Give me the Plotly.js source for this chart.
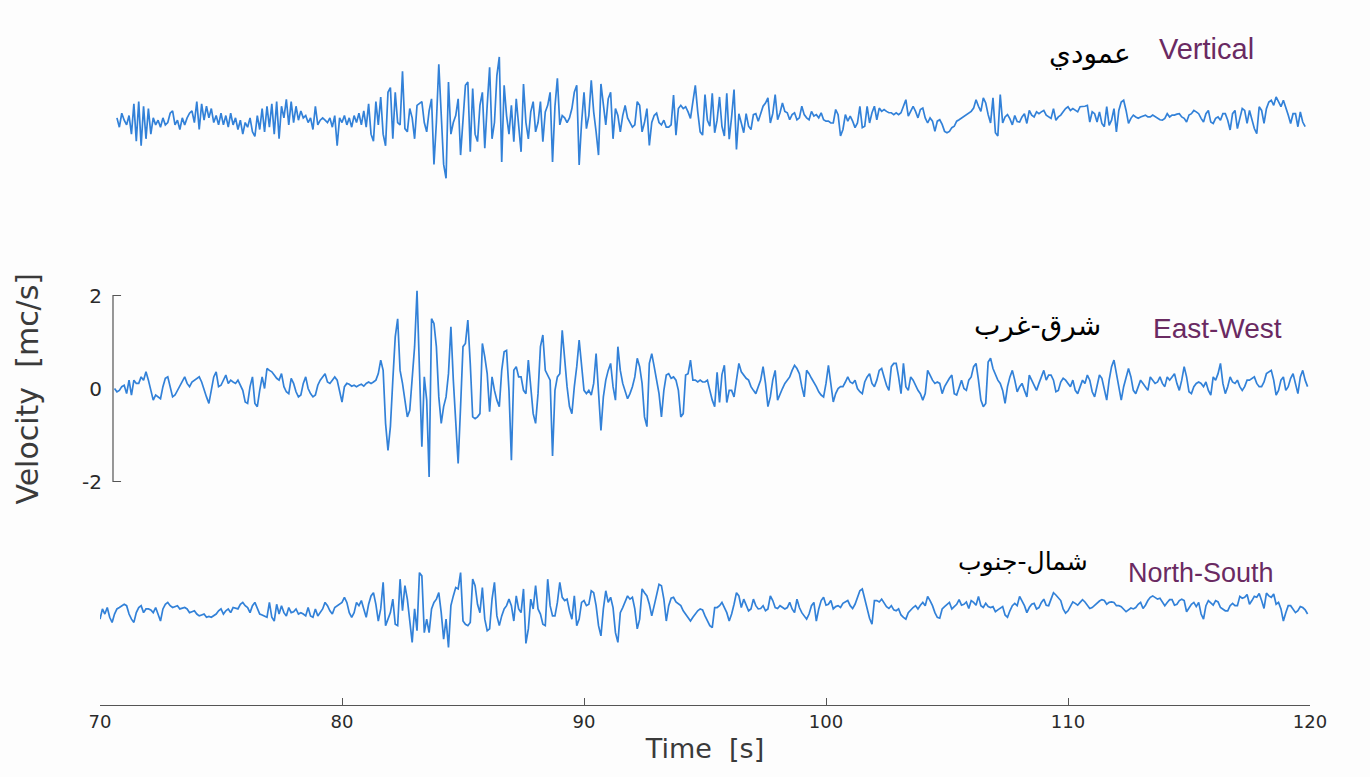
<!DOCTYPE html>
<html>
<head>
<meta charset="utf-8">
<script src="https://cdn.plot.ly/plotly-3.0.1.min.js"></script>
<style>html,body{margin:0;padding:0;background:#fdfdfd;}#chart{width:1370px;height:777px;}</style>
</head>
<body>
<div id="chart"></div>
<script>
// ---------------- DATA (velocity, mc/s; sampled every 0.1 s from t = 70 s) ----------------
const startTime = 70;
const sampleStep = 0.1;
const timeTicks = [70, 80, 90, 100, 110, 120];
const velocityTicks = [-2, 0, 2];
const componentNames = ["Vertical", "East-West", "North-South"];
const componentNamesAr = ["عمودي", "شرق-غرب", "شمال-جنوب"];
const xTitle = "Time  [s]";
const yTitle = "Velocity  [mc/s]";

const vertical = [
  null,null,null,null,null,null,null,0.05,-0.15,0.15,
  0.0,-0.1,0.1,-0.3,0.35,-0.45,0.4,-0.55,0.3,-0.4,
  0.25,-0.3,0.05,-0.1,0.0,-0.15,0.05,-0.1,-0.05,0.15,
  0.2,-0.1,0.0,-0.2,0.05,-0.1,0.05,0.15,0.2,-0.05,
  0.4,-0.2,0.35,0.0,0.3,0.05,0.25,-0.05,0.1,-0.1,
  0.15,-0.1,0.1,-0.15,0.15,-0.1,0.05,-0.2,0.0,-0.3,
  -0.05,-0.15,0.05,-0.25,-0.35,0.1,-0.2,0.25,-0.25,0.3,
  -0.15,0.35,-0.3,0.4,-0.4,0.3,0.05,0.45,-0.1,0.4,
  -0.05,0.3,0.0,0.2,0.05,0.1,-0.05,0.05,-0.2,0.3,
  -0.1,0.0,0.05,0.0,-0.05,0.05,-0.15,0.1,-0.55,0.05,
  -0.05,0.1,-0.1,0.05,-0.15,0.1,-0.05,0.15,-0.1,0.2,
  -0.15,0.35,-0.3,-0.45,0.4,-0.1,0.5,-0.3,-0.55,0.6,
  0.7,-0.4,0.6,-0.05,-0.1,1.05,-0.18,-0.25,0.25,0.05,
  -0.4,0.32,0.36,0.4,-0.05,-0.25,0.2,0.46,-0.95,-0.05,
  1.2,0.18,-0.95,-1.25,0.82,-0.3,-0.05,0.1,0.46,-0.75,
  -0.05,0.75,0.82,-0.68,0.68,-0.3,-0.46,0.32,0.6,-0.6,
  0.32,1.14,-0.4,-0.05,0.96,1.36,-0.9,0.75,0.1,-0.3,
  0.32,-0.46,0.46,-0.05,-0.68,0.78,-0.05,-0.4,0.18,0.4,
  -0.25,-0.05,0.4,-0.46,0.18,0.32,0.6,-0.9,0.3,0.9,
  -0.1,0.1,0.05,-0.05,0.05,0.25,0.6,0.75,-0.96,-0.05,
  0.6,-0.18,0.1,0.86,0.18,-0.25,-0.75,0.78,0.32,-0.1,
  0.46,0.6,-0.4,0.25,0.1,-0.25,0.1,0.32,0.05,-0.05,
  -0.15,-0.1,0.4,0.32,-0.25,-0.05,0.25,-0.54,-0.05,0.1,
  0.15,-0.05,-0.1,0.0,-0.15,-0.15,-0.1,0.54,-0.32,0.25,
  0.32,0.25,0.29,0.18,0.04,0.4,0.75,0.18,-0.25,-0.32,
  0.55,0.0,-0.13,0.58,-0.27,0.0,0.5,-0.13,-0.34,0.58,
  -0.41,0.07,0.66,-0.63,0.14,-0.06,-0.27,0.14,-0.13,-0.2,
  0.12,0.14,-0.02,0.14,0.3,0.37,0.48,-0.06,0.14,0.55,
  0.01,0.16,0.37,0.19,0.16,0.01,0.12,0.16,0.01,0.05,
  0.3,0.12,0.05,0.01,0.19,0.09,0.12,0.05,0.16,0.01,
  -0.02,-0.02,-0.06,-0.06,0.23,0.12,-0.34,-0.2,0.12,-0.02,
  0.09,-0.02,-0.16,-0.06,0.3,-0.16,-0.13,0.3,-0.06,0.16,
  0.3,0.01,0.26,0.19,0.23,0.19,0.16,0.16,0.12,0.16,
  0.12,0.16,0.3,0.44,0.09,0.19,0.3,0.19,0.05,0.23,
  0.26,0.05,-0.06,0.05,-0.02,-0.24,-0.02,0.01,-0.09,-0.24,
  -0.27,-0.24,-0.16,-0.13,-0.02,0.01,0.05,0.09,0.12,0.16,
  0.19,0.26,0.44,0.3,0.19,0.48,0.37,0.12,-0.06,0.48,
  -0.27,-0.34,0.55,-0.06,0.07,0.12,0.03,-0.1,0.1,-0.03,
  -0.04,0.07,0.14,-0.07,0.21,0.11,0.07,0.18,0.14,0.18,
  0.21,0.11,0.07,0.04,0.25,0.0,0.07,0.11,0.18,0.25,
  0.29,0.21,0.25,0.21,0.18,0.29,0.29,0.3,0.32,-0.04,
  0.18,0.14,-0.04,0.18,-0.07,-0.14,0.29,-0.11,0.0,0.25,
  -0.25,0.21,0.39,0.43,0.21,-0.07,0.04,0.11,0.07,0.04,
  0.07,0.09,0.11,0.07,0.07,0.11,0.07,0.04,0.01,0.0,
  0.04,0.14,0.07,0.11,0.11,0.13,0.14,0.07,0.04,-0.04,
  0.11,0.14,0.21,0.18,0.14,0.04,-0.04,0.14,0.21,-0.04,
  -0.07,0.04,0.07,0.0,0.14,0.14,0.0,-0.21,0.14,0.21,
  -0.18,0.04,0.25,0.21,-0.07,0.21,0.04,-0.18,-0.29,0.29,
  0.21,-0.07,0.25,0.39,0.43,0.32,0.5,0.39,0.29,0.43,
  0.29,0.11,-0.07,0.14,0.14,-0.14,0.18,-0.04,-0.14,null
];

const eastWest = [
  null,null,null,null,null,null,0.0,-0.07,-0.04,0.04,
  0.07,-0.11,0.18,-0.14,0.18,0.11,0.11,0.25,0.18,0.36,
  0.18,-0.07,-0.25,-0.14,-0.18,-0.22,0.04,0.22,0.25,0.04,
  -0.18,-0.14,-0.04,0.07,0.18,0.25,0.11,0.04,0.14,0.18,
  0.22,0.25,0.14,-0.04,-0.18,-0.32,0.0,0.25,0.36,0.04,
  0.07,0.18,0.29,0.11,0.18,0.14,0.11,0.18,0.07,-0.04,
  -0.29,-0.32,0.04,0.25,-0.32,-0.39,-0.04,0.25,0.0,0.43,
  0.39,0.36,0.29,0.22,0.18,0.32,0.04,-0.07,-0.11,0.22,
  0.11,-0.07,-0.18,-0.14,0.11,0.25,0.0,-0.11,-0.18,-0.14,
  0.07,0.18,0.25,0.32,0.14,0.11,0.18,0.25,0.18,-0.04,
  -0.29,0.04,0.11,0.09,0.05,0.07,0.04,0.07,0.09,0.05,
  0.11,0.14,0.11,0.14,0.18,0.32,0.61,0.39,-0.75,-1.33,
  -0.82,0.18,1.11,1.5,0.39,0.11,-0.25,-0.61,-0.47,0.18,
  0.9,2.1,0.54,-1.25,0.25,-0.25,-1.9,1.5,1.4,0.9,
  -0.18,-0.75,-0.39,-0.18,0.32,1.33,0.18,-0.61,-1.61,-0.39,
  0.9,0.97,1.47,0.54,-0.61,-0.65,-0.61,-0.54,0.97,0.68,
  0.32,-0.5,0.25,-0.04,-0.25,-0.39,0.39,0.79,0.82,-0.04,
  -1.54,0.39,0.47,0.25,0.25,-0.04,-0.11,0.61,0.04,-0.54,
  -0.75,-0.11,0.9,1.15,0.39,0.29,0.18,-1.45,-0.04,0.25,
  0.32,1.25,0.54,0.04,-0.39,-0.54,0.04,0.47,1.04,0.54,
  -0.04,-0.11,-0.04,-0.14,0.11,0.75,-0.04,-0.9,-0.18,0.18,
  0.39,0.54,0.04,-0.25,0.9,0.39,0.11,-0.04,-0.22,-0.11,
  0.04,0.25,0.65,0.47,0.11,-0.61,-0.82,0.54,0.75,0.47,
  0.18,-0.11,-0.61,-0.04,0.29,0.32,0.22,0.25,0.18,-0.04,
  -0.61,-0.54,0.29,0.32,0.61,0.18,0.18,0.14,0.18,0.14,
  0.14,0.18,-0.04,-0.25,-0.39,0.35,-0.3,0.3,0.5,-0.3,
  -0.04,-0.04,-0.18,0.18,0.54,0.36,0.29,0.22,0.18,0.04,
  -0.04,-0.11,0.04,0.18,0.47,0.11,-0.39,-0.18,0.18,0.39,
  -0.25,-0.11,0.0,0.11,0.18,0.25,0.39,0.5,0.43,0.32,
  0.04,-0.18,0.39,0.32,0.22,0.14,0.04,-0.07,-0.14,-0.18,
  0.11,0.5,0.04,-0.29,-0.11,0.0,0.04,0.04,0.14,0.25,
  0.14,0.11,0.18,0.0,-0.07,-0.11,0.14,0.25,0.32,0.11,
  0.04,0.18,0.39,0.43,0.25,0.07,-0.04,0.47,0.54,0.54,
  0.25,-0.11,0.54,0.04,-0.04,0.25,0.18,0.07,-0.04,-0.11,
  -0.25,-0.11,0.39,0.29,0.18,0.11,0.14,0.11,-0.11,0.04,
  0.14,0.22,0.29,-0.11,-0.14,0.0,0.18,0.0,-0.04,0.18,
  0.25,0.47,0.54,0.18,-0.25,-0.39,-0.32,0.57,0.65,0.43,
  0.32,0.18,0.11,-0.04,-0.32,0.04,0.25,0.39,0.18,-0.07,
  0.04,0.11,-0.04,-0.18,0.29,0.18,0.07,-0.04,0.11,0.25,
  0.39,0.18,0.29,0.29,0.18,-0.07,-0.04,0.14,0.22,0.18,
  0.11,0.04,0.18,-0.04,-0.11,0.04,0.18,0.11,0.29,0.18,
  -0.07,-0.18,0.04,0.29,0.22,-0.04,-0.25,0.18,0.47,0.61,
  0.32,-0.04,-0.25,0.04,0.25,0.43,0.25,-0.04,-0.11,0.04,
  0.18,0.11,0.04,-0.04,0.25,0.18,0.11,0.14,0.25,0.11,
  0.04,0.25,0.18,0.25,0.32,0.11,-0.04,0.18,0.47,0.25,
  -0.07,-0.11,0.04,0.11,0.14,0.11,0.04,0.14,-0.04,-0.14,
  0.25,0.18,0.32,0.54,0.11,-0.11,0.04,0.25,0.14,0.11,
  0.18,0.04,-0.04,0.04,0.18,0.18,0.22,0.25,0.11,0.04,
  0.04,0.14,0.32,0.36,0.39,0.18,-0.14,-0.04,0.18,0.25,
  -0.04,0.04,0.22,0.32,0.11,-0.11,0.25,0.39,0.18,0.04
];

const northSouth = [
  -0.18,0.04,-0.07,0.07,-0.14,-0.25,-0.07,0.04,0.07,0.11,
  0.14,0.11,-0.07,-0.18,-0.25,-0.04,0.07,0.11,-0.04,0.04,
  0.04,0.02,-0.04,0.07,-0.07,-0.22,0.04,0.14,0.18,0.11,
  0.07,0.09,0.11,0.04,0.05,0.07,0.04,-0.04,-0.02,0.0,
  -0.07,-0.11,-0.09,-0.07,-0.14,-0.12,-0.14,-0.11,-0.07,0.0,
  0.04,-0.07,0.0,0.04,-0.04,0.07,0.05,0.04,0.14,0.18,
  0.11,0.07,-0.04,0.11,0.18,0.04,-0.07,-0.09,-0.12,-0.14,
  0.18,-0.14,-0.22,0.14,-0.07,0.11,-0.04,-0.11,0.07,-0.04,
  -0.02,0.04,-0.07,-0.04,-0.07,-0.11,0.07,-0.11,-0.14,0.04,
  -0.11,-0.04,0.04,0.18,0.11,0.0,-0.07,0.07,0.11,0.14,
  0.18,0.29,0.18,-0.04,-0.14,-0.04,0.18,0.11,0.22,0.04,
  -0.14,0.14,0.32,0.39,0.14,-0.22,0.04,0.61,-0.32,-0.18,
  -0.04,0.25,-0.29,-0.32,0.68,0.0,0.54,0.25,-0.29,-0.68,
  0.04,-0.43,0.82,0.75,-0.47,-0.18,-0.47,0.04,0.18,0.25,
  0.39,-0.04,-0.61,-0.18,-0.79,0.11,0.32,0.5,0.47,0.82,
  -0.22,-0.29,-0.32,-0.25,0.68,0.54,0.14,-0.04,0.5,-0.18,
  -0.43,-0.39,0.25,0.61,-0.11,-0.32,-0.11,0.04,0.11,0.25,
  0.11,-0.22,0.32,0.04,-0.04,0.47,-0.7,-0.39,0.25,0.04,
  0.54,0.04,-0.07,-0.29,-0.32,0.68,0.11,-0.11,-0.11,0.18,
  0.61,0.29,0.22,0.25,0.0,-0.18,0.32,-0.32,-0.18,0.18,
  0.22,0.11,0.14,0.43,0.39,0.11,-0.32,-0.54,0.04,0.43,
  0.18,0.29,0.07,-0.47,-0.68,-0.04,0.07,0.18,0.32,0.25,
  0.29,0.04,-0.39,-0.18,0.47,0.39,0.32,0.14,-0.11,0.11,
  0.32,0.57,0.54,0.25,-0.22,0.11,0.27,0.29,0.19,0.14,
  0.11,0.0,-0.07,-0.14,-0.22,-0.14,-0.07,0.0,0.04,0.02,
  -0.11,-0.22,-0.32,-0.36,0.07,0.07,0.11,0.18,0.07,-0.04,
  -0.22,-0.07,0.14,0.39,0.32,0.07,0.25,0.14,0.0,0.04,
  0.25,0.11,0.04,0.05,0.11,0.0,0.04,0.32,0.22,0.07,
  0.05,0.11,0.07,0.04,0.07,0.18,0.04,-0.04,0.25,0.07,
  -0.04,-0.12,-0.18,-0.07,0.11,0.18,-0.22,0.04,0.22,0.29,
  0.12,0.14,0.22,0.04,0.09,0.11,0.07,0.16,0.19,0.22,
  0.11,0.05,0.14,0.27,0.43,0.47,0.25,0.04,-0.16,-0.29,
  0.22,0.22,0.19,0.25,0.18,0.09,0.05,0.11,0.02,0.0,
  0.04,-0.09,-0.14,-0.18,-0.04,0.02,0.07,0.11,0.04,0.12,
  0.18,0.11,0.31,0.22,0.11,-0.04,-0.14,-0.16,0.04,0.09,
  0.14,0.18,0.04,0.09,0.14,0.24,0.12,0.14,0.19,0.05,
  0.22,0.18,0.12,0.31,0.11,0.07,0.16,0.09,0.07,0.09,
  -0.02,0.02,0.05,0.09,-0.09,-0.14,0.0,0.11,0.16,0.11,
  0.31,0.22,0.11,-0.04,0.07,0.14,0.16,0.04,0.07,0.18,
  0.25,0.12,0.11,0.25,0.39,0.34,0.29,0.22,0.04,-0.05,
  0.0,0.11,0.19,0.16,0.12,0.18,0.24,0.19,0.12,0.05,
  0.07,0.12,0.18,0.21,0.24,0.22,0.14,0.18,0.19,0.18,
  0.11,0.11,0.09,0.04,-0.02,0.02,0.06,0.04,0.07,0.14,
  0.18,0.05,0.12,0.22,0.29,0.32,0.29,0.25,0.27,0.18,
  0.11,0.18,0.24,0.24,0.12,0.14,0.22,0.25,0.22,-0.02,
  0.07,0.14,0.18,0.09,0.18,-0.07,-0.18,0.11,0.22,0.18,
  0.12,0.22,0.19,0.07,0.04,0.0,0.0,0.11,0.16,0.11,
  0.11,0.31,0.27,0.29,0.35,0.14,0.22,0.31,0.29,0.37,
  0.22,0.05,0.38,0.32,0.29,0.36,0.14,0.18,0.04,-0.22,
  -0.04,0.11,0.11,0.04,-0.04,0.0,0.09,0.07,0.02,-0.07
];

// ---------------- STYLE / LAYOUT ----------------
const traceOffsets = [5.77, 0, -4.78];   // vertical stacking of the three components
const traceColor = "#3281d8";
const yRange = [-6.806, 8.14];

function times(n){ const t=[]; for(let i=0;i<n;i++) t.push(+(startTime + i*sampleStep).toFixed(2)); return t; }
function shift(arr, off){ return arr.map(v => v === null ? null : v + off); }

const series = [vertical, eastWest, northSouth];
const data = series.map((s, k) => ({
  type: "scatter", mode: "lines",
  x: times(s.length), y: shift(s, traceOffsets[k]),
  name: componentNames[k],
  line: {color: traceColor, width: 1.7},
  hoverinfo: "skip", showlegend: false
}));

const axisX = 0.01074, tickEnd = 0.0174;
const labelFont = "DejaVu Sans, Liberation Sans, sans-serif";
const layout = {
  width: 1370, height: 777,
  paper_bgcolor: "#fdfdfd", plot_bgcolor: "rgba(0,0,0,0)",
  margin: {l: 100, r: 60, t: 10, b: 72},
  font: {family: labelFont, color: "#333"},
  xaxis: {
    range: [70, 120], tickvals: timeTicks, ticks: "inside", ticklen: 7, tickcolor: "#555",
    showline: true, linecolor: "#555", linewidth: 1.2, showgrid: false, zeroline: false,
    tickfont: {family: labelFont, size: 18, color: "#2a2a2a"},
    title: {text: xTitle, font: {family: labelFont, size: 27, color: "#3a3a3a"}, standoff: 8}
  },
  yaxis: {
    range: yRange, tickvals: velocityTicks, ticktext: velocityTicks.map(String),
    ticks: "", showline: false, showgrid: false, zeroline: false,
    anchor: "free", position: axisX, ticklabelstandoff: 11,
    tickfont: {family: labelFont, size: 20, color: "#2a2a2a"},
    title: {text: ""}
  },
  shapes: [{
    type: "path", xref: "paper", yref: "y",
    path: `M ${tickEnd},${velocityTicks[2]} L ${axisX},${velocityTicks[2]} L ${axisX},${velocityTicks[0]} L ${tickEnd},${velocityTicks[0]}`,
    line: {color: "#555", width: 1.2}
  }],
  annotations: [
    {text: yTitle, x: -0.0603, y: 0, xref: "paper", yref: "y", textangle: -90, showarrow: false,
     xanchor: "center", yanchor: "middle", font: {family: labelFont, size: 30, color: "#3a3a3a"}},
    {text: componentNamesAr[0], x: 110.91, y: 7.2, xref: "x", yref: "y", showarrow: false, font: {family: "DejaVu Sans", size: 28, color: "#000"}},
    {text: componentNames[0], x: 115.74, y: 7.3, xref: "x", yref: "y", showarrow: false, font: {family: "Liberation Sans", size: 29, color: "#6a2a62"}},
    {text: componentNamesAr[1], x: 108.72, y: 1.36, xref: "x", yref: "y", showarrow: false, font: {family: "DejaVu Sans", size: 28, color: "#000"}},
    {text: componentNames[1], x: 116.16, y: 1.30, xref: "x", yref: "y", showarrow: false, font: {family: "Liberation Sans", size: 28, color: "#6a2a62"}},
    {text: componentNamesAr[2], x: 108.14, y: -3.72, xref: "x", yref: "y", showarrow: false, font: {family: "DejaVu Sans", size: 25, color: "#000"}},
    {text: componentNames[2], x: 115.5, y: -3.97, xref: "x", yref: "y", showarrow: false, font: {family: "Liberation Sans", size: 27, color: "#6a2a62"}}
  ]
};

Plotly.newPlot("chart", data, layout, {displayModeBar: false, staticPlot: true});
</script>
</body>
</html>
